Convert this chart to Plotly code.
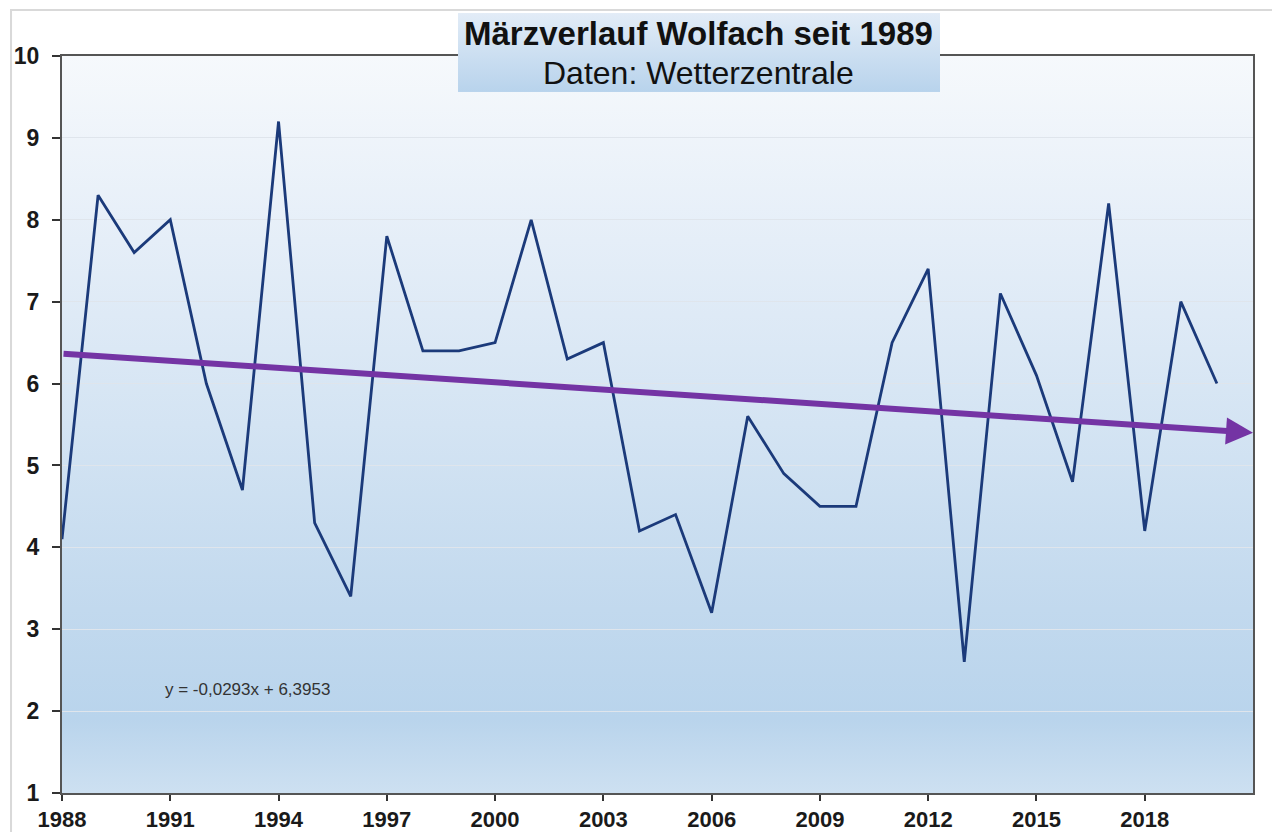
import base64
import plotly.graph_objects as go

# ---- data ----
years = list(range(1988, 2021))
march_temp = [4.1, 8.3, 7.6, 8.0, 6.0, 4.7, 9.2, 4.3, 3.4, 7.8,
              6.4, 6.4, 6.5, 8.0, 6.3, 6.5, 4.2, 4.4, 3.2, 5.6,
              4.9, 4.5, 4.5, 6.5, 7.4, 2.6, 7.1, 6.1, 4.8, 8.2,
              4.2, 7.0, 6.0]
x_ticks = [1988, 1991, 1994, 1997, 2000, 2003, 2006, 2009, 2012, 2015, 2018]
y_ticks = [1, 2, 3, 4, 5, 6, 7, 8, 9, 10]
trend_slope = -0.0293
trend_intercept = 6.3953
trend_label = "y = -0,0293x + 6,3953"
title_line1 = "Märzverlauf Wolfach seit 1989"
title_line2 = "Daten: Wetterzentrale"
x_range = [1988, 2021]
y_range = [1, 10]


def trend(year):
    return trend_slope * (year - 1987) + trend_intercept


def gradient_uri(stops):
    st = "".join(f"<stop offset='{o}' stop-color='{c}'/>" for o, c in stops)
    svg = ("<svg xmlns='http://www.w3.org/2000/svg' width='100' height='100' "
           "viewBox='0 0 100 100' preserveAspectRatio='none'><defs>"
           "<linearGradient id='g' x1='0' y1='0' x2='0' y2='1'>" + st +
           "</linearGradient></defs><rect width='100' height='100' fill='url(#g)'/></svg>")
    return "data:image/svg+xml;base64," + base64.b64encode(svg.encode()).decode()


plot_bg = gradient_uri([(0, "#f6f9fc"), (0.25, "#e5eef8"), (0.5, "#d4e4f3"),
                        (0.75, "#c2d9ee"), (0.9, "#b9d4ec"), (1, "#cde0f1")])
box_bg = gradient_uri([(0, "#e2ecf7"), (1, "#b8d3ec")])

FONT = "Liberation Sans, Arial, sans-serif"

fig = go.Figure()
fig.add_trace(go.Scatter(x=years, y=march_temp, mode="lines",
                         line=dict(color="#1b3a7a", width=2.8),
                         hoverinfo="x+y", showlegend=False))

# trend arrow
fig.add_annotation(x=x_range[1], y=trend(x_range[1]), ax=x_range[0], ay=trend(x_range[0]),
                   xref="x", yref="y", axref="x", ayref="y", text="",
                   showarrow=True, arrowhead=2, arrowsize=0.9, arrowwidth=6,
                   arrowcolor="#7434a4")

fig.add_annotation(x=1993.15, y=2.26, xref="x", yref="y", text=trend_label,
                   showarrow=False, xanchor="center", yanchor="middle",
                   font=dict(family=FONT, size=17, color="#333333"))

# background gradient of plot area
fig.add_layout_image(source=plot_bg, xref="x", yref="y", x=x_range[0], y=y_range[1],
                     sizex=x_range[1] - x_range[0], sizey=y_range[1] - y_range[0],
                     sizing="stretch", layer="below", xanchor="left", yanchor="top")

# title box
fig.add_layout_image(source=box_bg, xref="paper", yref="paper", x=0.3325, y=1.0583,
                     sizex=0.4047, sizey=0.1071, sizing="stretch", layer="above",
                     xanchor="left", yanchor="top")
fig.add_annotation(x=0.5348, y=1.031, xref="paper", yref="paper", text=title_line1,
                   showarrow=False, xanchor="center", yanchor="middle",
                   font=dict(family=FONT, size=33, color="#111111", weight="bold"))
fig.add_annotation(x=0.5348, y=0.977, xref="paper", yref="paper", text=title_line2,
                   showarrow=False, xanchor="center", yanchor="middle",
                   font=dict(family=FONT, size=32, color="#111111"))

# outer border
fig.add_shape(type="rect", xref="paper", yref="paper", x0=-0.0428, y0=-0.2, x1=1.2, y1=1.0624,
              line=dict(color="#d9d9d9", width=2), layer="below")

fig.update_layout(
    width=1272, height=824,
    margin=dict(l=54, r=27, t=48, b=39, autoexpand=False),
    paper_bgcolor="white", plot_bgcolor="rgba(0,0,0,0)",
    showlegend=False,
    font=dict(family=FONT, color="#1a1a1a"),
)
fig.update_xaxes(range=x_range, tickvals=x_ticks, ticks="outside", ticklen=6, tickwidth=2,
                 tickcolor="#333333", showline=True, linecolor="#555555", linewidth=2,
                 mirror=True, showgrid=False, zeroline=False, automargin=False,
                 tickfont=dict(size=22, family=FONT, color="#1a1a1a", weight="bold"))
fig.update_yaxes(range=y_range, tickvals=y_ticks, ticks="outside", ticklen=8, tickwidth=2,
                 tickcolor="#333333", showline=True, linecolor="#555555", linewidth=2,
                 mirror=True, showgrid=True, gridcolor="#dfe5ec", gridwidth=1, zeroline=False,
                 automargin=False,
                 tickfont=dict(size=23, family=FONT, color="#1a1a1a", weight="bold"),
                 ticklabelstandoff=8)

fig.write_html("out.html")
